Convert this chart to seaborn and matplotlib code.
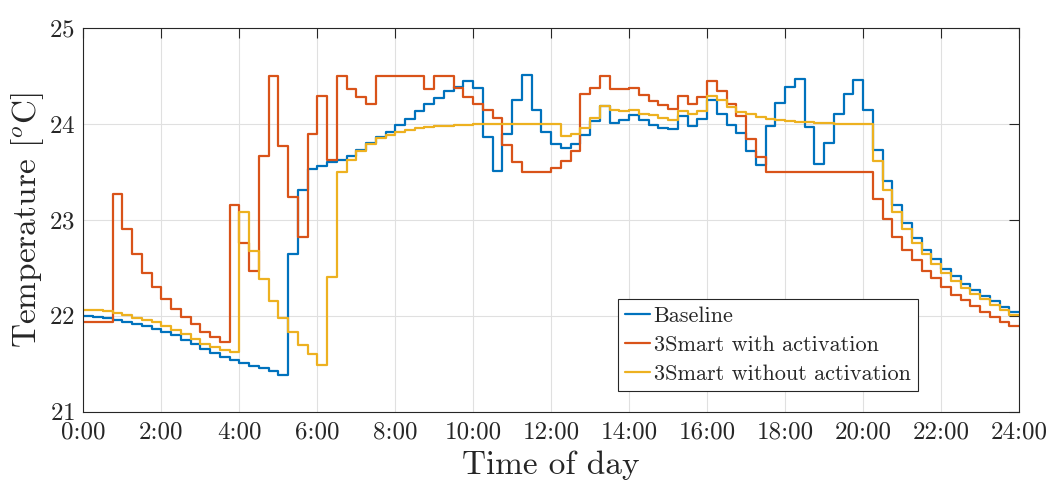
# plot.py
# Room temperature over one day: baseline vs. 3Smart control (15 min steps)

import numpy as np
import pandas as pd
import matplotlib
matplotlib.use('Agg')
import matplotlib.pyplot as plt
import seaborn as sns


# 1. Data (one value per 15-minute interval)

series_names = ['Baseline', '3Smart with activation', '3Smart without activation']
series_colors = ['#0072BD', '#D95319', '#EDB120']

baseline = [
    22.00, 21.99, 21.98, 21.96, 21.94, 21.91, 21.89, 21.86,
    21.83, 21.80, 21.75, 21.71, 21.65, 21.61, 21.57, 21.54,
    21.51, 21.48, 21.45, 21.42, 21.38, 22.64, 23.31, 23.53,
    23.56, 23.60, 23.63, 23.67, 23.73, 23.80, 23.86, 23.92,
    23.99, 24.05, 24.14, 24.21, 24.27, 24.34, 24.39, 24.45,
    24.38, 23.87, 23.51, 23.90, 24.25, 24.51, 24.15, 23.92,
    23.79, 23.75, 23.79, 23.89, 24.03, 24.19, 24.01, 24.04,
    24.09, 24.04, 23.99, 23.96, 23.95, 24.08, 23.98, 24.05,
    24.25, 24.11, 23.99, 23.91, 23.72, 23.57, 23.98, 24.22,
    24.39, 24.47, 23.97, 23.58, 23.80, 24.10, 24.31, 24.46,
    24.15, 23.73, 23.41, 23.16, 22.97, 22.81, 22.69, 22.59,
    22.49, 22.41, 22.33, 22.27, 22.21, 22.15, 22.09, 22.04,
]

with_activation = [
    21.94, 21.94, 21.93, 23.27, 22.90, 22.64, 22.45, 22.30,
    22.18, 22.07, 21.99, 21.91, 21.83, 21.78, 21.73, 23.16,
    22.76, 22.47, 23.67, 24.50, 23.77, 23.24, 22.82, 23.90,
    24.29, 23.62, 24.50, 24.37, 24.28, 24.21, 24.50, 24.50,
    24.50, 24.50, 24.50, 24.37, 24.50, 24.50, 24.38, 24.28,
    24.21, 24.15, 24.06, 23.78, 23.60, 23.50, 23.50, 23.50,
    23.54, 23.61, 23.72, 24.31, 24.38, 24.50, 24.37, 24.37,
    24.38, 24.30, 24.24, 24.20, 24.16, 24.29, 24.21, 24.28,
    24.45, 24.34, 24.21, 24.08, 23.84, 23.66, 23.50, 23.50,
    23.50, 23.50, 23.50, 23.50, 23.50, 23.50, 23.50, 23.50,
    23.50, 23.22, 23.01, 22.82, 22.69, 22.58, 22.47, 22.39,
    22.30, 22.22, 22.16, 22.10, 22.04, 21.99, 21.94, 21.89,
]

without_activation = [
    22.06, 22.06, 22.05, 22.03, 22.01, 21.98, 21.96, 21.93,
    21.89, 21.85, 21.81, 21.76, 21.71, 21.67, 21.64, 21.62,
    23.08, 22.68, 22.38, 22.15, 21.98, 21.83, 21.70, 21.60,
    21.49, 22.40, 23.50, 23.63, 23.72, 23.79, 23.85, 23.89,
    23.92, 23.94, 23.96, 23.97, 23.98, 23.98, 23.99, 23.99,
    24.00, 24.00, 24.00, 24.00, 24.00, 24.00, 24.00, 24.00,
    24.00, 23.88, 23.90, 23.96, 24.06, 24.19, 24.15, 24.14,
    24.15, 24.11, 24.09, 24.06, 24.04, 24.14, 24.10, 24.14,
    24.29, 24.25, 24.18, 24.13, 24.10, 24.07, 24.05, 24.04,
    24.03, 24.02, 24.02, 24.01, 24.01, 24.00, 24.00, 24.00,
    24.00, 23.61, 23.31, 23.08, 22.90, 22.76, 22.64, 22.54,
    22.45, 22.36, 22.29, 22.23, 22.17, 22.11, 22.06, 22.01,
]

tick_hours = list(range(0, 25, 2))
tick_labels = [f'{h}:00' for h in tick_hours]


# 2. Long dataframe for seaborn (stairs: repeat last value at 24:00)

hours = np.arange(97) * 0.25
rows = []
for name, vals in zip(series_names, [baseline, with_activation, without_activation]):
    vals = list(vals) + [vals[-1]]
    for t, v in zip(hours, vals):
        rows.append((t, v, name))
df = pd.DataFrame(rows, columns=['time', 'temp', 'series'])


# 3. Plot (MATLAB-like look)

sns.set_theme(style='white')
plt.rcParams['font.family'] = ['cmr10', 'DejaVu Serif']
plt.rcParams['mathtext.fontset'] = 'cm'
plt.rcParams['axes.unicode_minus'] = False
plt.rcParams['axes.formatter.use_mathtext'] = True

fig = plt.figure(figsize=(10.54, 4.9), dpi=100)
ax = fig.add_axes([0.079, 0.160, 0.888, 0.7824])

sns.lineplot(data=df, x='time', y='temp', hue='series', hue_order=series_names,
             palette=series_colors, drawstyle='steps-post', linewidth=1.6,
             estimator=None, ax=ax)

ax.set_xlim(0, 24)
ax.set_ylim(21, 25)
ax.set_xticks(tick_hours)
ax.set_xticklabels(tick_labels)
ax.set_yticks([21, 22, 23, 24, 25])

ax.grid(True, color='#e0e0e0', linewidth=0.8)
ax.set_axisbelow(True)
for sp in ax.spines.values():
    sp.set_color('#262626')
    sp.set_linewidth(0.8)
ax.tick_params(direction='in', length=7, width=0.8, color='#262626',
               top=True, right=True, labelsize=18, labelcolor='#262626')
ax.tick_params(axis='x', pad=7)
ax.tick_params(axis='y', pad=6)

ax.set_xlabel('Time of day', fontsize=24, color='#262626', labelpad=5)
ax.set_ylabel(r'Temperature [$^o$C]', fontsize=24, color='#262626', labelpad=2)

handles, labels = ax.get_legend_handles_labels()
leg = ax.legend(handles, labels, loc='upper left', bbox_to_anchor=(0.571, 0.294),
                fontsize=16, frameon=True, fancybox=False, framealpha=1,
                edgecolor='#262626', handlelength=1.15, handletextpad=0.15,
                labelspacing=0.43, borderpad=0.32, borderaxespad=0)
leg.get_frame().set_linewidth(0.8)

fig.savefig('out.png', dpi=100)
